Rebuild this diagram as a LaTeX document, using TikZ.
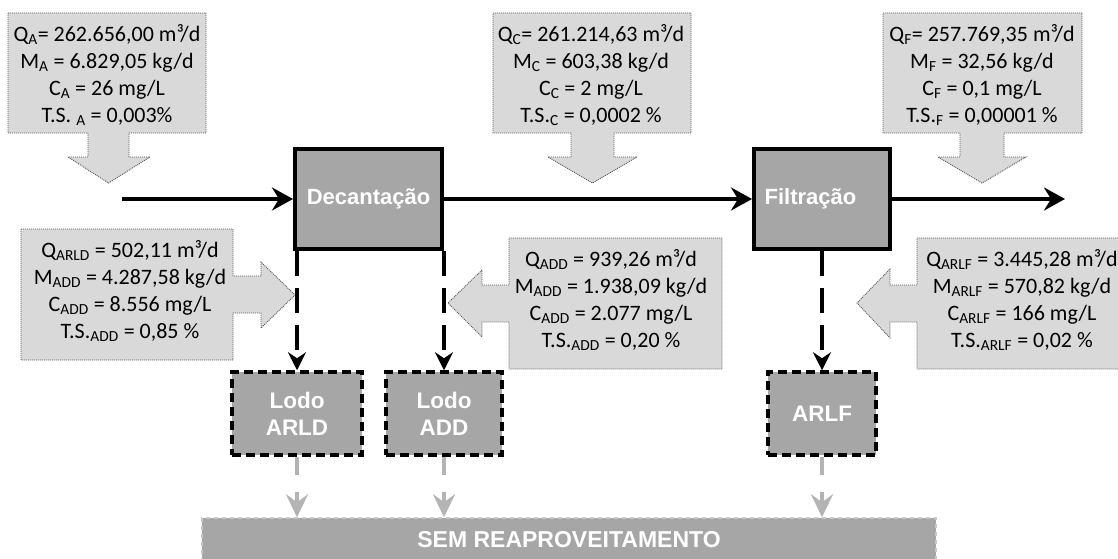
\documentclass[tikz,border=0pt]{standalone}
\usepackage{fontspec}
\setmainfont{Carlito}
\newfontfamily\labelfont{Liberation Sans}
\usetikzlibrary{arrows.meta,calc}

\definecolor{boxgray}{HTML}{A6A6A6}
\definecolor{calfill}{HTML}{D9D9D9}
\definecolor{dotgray}{HTML}{595959}
\definecolor{arrowgray}{HTML}{B4B4B4}
\definecolor{bargray}{HTML}{C8C8C8}

\tikzset{
  infobox/.style={fill=calfill, draw=dotgray, line width=0.9pt, dash pattern=on 1pt off 1pt},
  infotext/.style={align=center, inner sep=0pt, font=\fontsize{22}{27}\selectfont},
  procbox/.style={draw=black, line width=4pt, fill=boxgray, text=white,
    minimum height=100pt, font=\labelfont\bfseries\fontsize{22}{26}\selectfont},
  sludgebox/.style={draw=black, line width=3.5pt, dash pattern=on 9pt off 5pt, fill=boxgray,
    text=white, align=center, minimum height=83pt,
    font=\labelfont\bfseries\fontsize{22.5}{27}\selectfont},
  flow/.style={line width=4.5pt, -{Stealth[length=21pt,width=23pt,inset=7pt]}},
  sludgeflow/.style={line width=4pt, dash pattern=on 25pt off 12pt,
    -{Stealth[length=18pt,width=18pt,inset=6pt]}},
  discard/.style={line width=4.5pt, draw=arrowgray, dash pattern=on 18pt off 17pt,
    -{Stealth[length=23pt,width=22pt,inset=8pt,fill=arrowgray]}},
  barbox/.style={fill=boxgray, draw=bargray, line width=1.5pt, dash pattern=on 4pt off 4pt,
    text=white, font=\labelfont\bfseries\fontsize{23}{26}\selectfont}
}

\begin{document}
\begin{tikzpicture}[x=1pt,y=-1pt]
\useasboundingbox (0,0) rectangle (1118,559);

% ---- data callouts (block arrows) ----
\draw[infobox] (8,13) -- (206,13) -- (206,133) -- (129,133) -- (129,157) -- (150,157)
  -- (108.5,183) -- (68,157) -- (88,157) -- (88,133) -- (8,133) -- cycle;
\draw[infobox] (493,13) -- (691,13) -- (691,133) -- (614,133) -- (614,157) -- (637,157)
  -- (592.5,183) -- (548,157) -- (571,157) -- (571,133) -- (493,133) -- cycle;
\draw[infobox] (883,13) -- (1082,13) -- (1082,133) -- (1004,133) -- (1004,157) -- (1026,157)
  -- (982,183) -- (938,157) -- (960,157) -- (960,133) -- (883,133) -- cycle;
\draw[infobox] (21,229) -- (233,229) -- (233,276) -- (261,276) -- (261,262) -- (295,295)
  -- (261,328) -- (261,313) -- (233,313) -- (233,360) -- (21,360) -- cycle;
\draw[infobox] (722,238) -- (509,238) -- (509,285) -- (482,285) -- (482,270) -- (448,303)
  -- (482,337) -- (482,322) -- (509,322) -- (509,369) -- (722,369) -- cycle;
\draw[infobox] (1122,238) -- (917,238) -- (917,285) -- (890,285) -- (890,269) -- (857,303)
  -- (890,338) -- (890,322) -- (917,322) -- (917,369) -- (1122,369) -- cycle;

\node[infotext] (ta) at (107,75) {Q\textsubscript{A}= 262.656,00 m³/d\\
  M\textsubscript{A} = 6.829,05 kg/d\\ C\textsubscript{A} = 26 mg/L\\
  T.S. \textsubscript{A} = 0,003\%};
\node[infotext] (tc) at (591,75) {Q\textsubscript{C}= 261.214,63 m³/d\\
  M\textsubscript{C} = 603,38 kg/d\\ C\textsubscript{C} = 2 mg/L\\
  T.S.\textsubscript{C} = 0,0002 \%};
\node[infotext] (tf) at (982,75) {Q\textsubscript{F}= 257.769,35 m³/d\\
  M\textsubscript{F} = 32,56 kg/d\\ C\textsubscript{F} = 0,1 mg/L\\
  T.S.\textsubscript{F} = 0,00001 \%};
\node[infotext] (tarld) at (130,291) {Q\textsubscript{ARLD} = 502,11 m³/d\\
  M\textsubscript{ADD} = 4.287,58 kg/d\\ C\textsubscript{ADD} = 8.556 mg/L\\
  T.S.\textsubscript{ADD} = 0,85 \%};
\node[infotext] (tadd) at (611,300) {Q\textsubscript{ADD} = 939,26 m³/d\\
  M\textsubscript{ADD} = 1.938,09 kg/d\\ C\textsubscript{ADD} = 2.077 mg/L\\
  T.S.\textsubscript{ADD} = 0,20 \%};
\node[infotext] (tarlf) at (1022,300) {Q\textsubscript{ARLF} = 3.445,28 m³/d\\
  M\textsubscript{ARLF} = 570,82 kg/d\\ C\textsubscript{ARLF} = 166 mg/L\\
  T.S.\textsubscript{ARLF} = 0,02 \%};

% ---- treatment units ----
\node[procbox, minimum width=147pt] (dec) at (368.5,199) {Decantação};
\node[procbox, minimum width=136pt] (fil) at (822,199) {Filtração\kern23pt};

% ---- sludge and backwash water ----
\node[sludgebox, minimum width=130pt] (lodoarld) at (297,413.5) {Lodo\\ARLD};
\node[sludgebox, minimum width=116pt] (lodoadd) at (444,413.5) {Lodo\\ADD};
\node[sludgebox, minimum width=108pt] (arlf) at (822,413.5) {ARLF};

\node[barbox, minimum width=734pt, minimum height=44pt] (sem) at (569,540) {SEM REAPROVEITAMENTO};

% ---- main water line ----
\coordinate (entrada) at (122,199);
\coordinate (saida) at (1065,199);
\draw[flow] (entrada) -- (dec.west);
\draw[flow] (dec.east) -- (fil.west);
\draw[flow] (fil.east) -- (saida);

% ---- residual streams ----
\draw[sludgeflow] (lodoarld.north |- dec.south) -- (lodoarld.north);
\draw[sludgeflow] (lodoadd.north |- dec.south) -- (lodoadd.north);
\draw[sludgeflow] (arlf.north |- fil.south) -- (arlf.north);

\draw[discard] (lodoarld.south) -- (lodoarld.south |- sem.north);
\draw[discard] (lodoadd.south) -- (lodoadd.south |- sem.north);
\draw[discard] (arlf.south) -- (arlf.south |- sem.north);
\end{tikzpicture}
\end{document}
